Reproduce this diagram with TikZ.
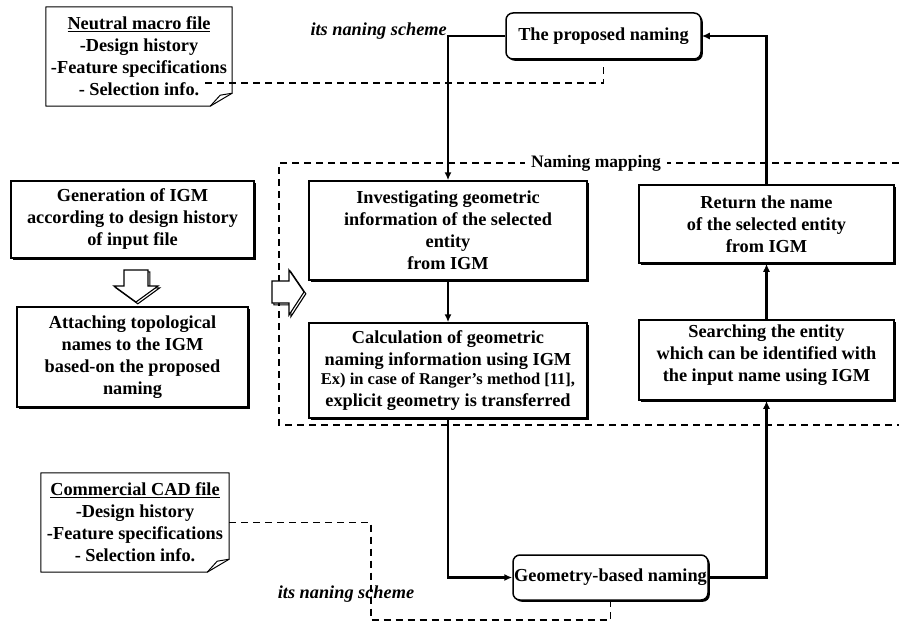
\documentclass[tikz,border=0pt]{standalone}
\usepackage{fontspec}
\setmainfont{Liberation Serif}
\usetikzlibrary{arrows.meta,shadows,calc}
\begin{document}
\begin{tikzpicture}[x=1pt,y=-1pt,
  every node/.style={font=\bfseries\fontsize{18.3}{22}\selectfont, align=center, inner sep=0pt},
  procbox/.style={draw, line width=1.5pt, fill=white,
    drop shadow={shadow xshift=1.8pt, shadow yshift=-1.8pt, opacity=1, fill=black}},
  roundbox/.style={procbox, rounded corners=7pt},
  notebox/.style={draw=none},
  noteline/.style={line width=1pt, line join=round},
  conn/.style={line width=2.5pt, -{Latex[length=8pt,width=7pt]}},
  dashline/.style={line width=1.8pt, dash pattern=on 7pt off 5pt},
  lbl/.style={font=\bfseries\itshape\fontsize{18.3}{22}\selectfont},
  hollow/.style={draw, line width=1.1pt, fill=white, line join=miter}
]
\useasboundingbox (0,0) rectangle (899,626);

% naming mapping frame
\draw[dashline] (899,163) -- (279,163) -- (279,425) -- (899,425);

% notes
\node[notebox, minimum width=186pt, minimum height=99pt] (neutral) at (139,56.5)
  {\underline{Neutral macro file}\\-Design history\\-Feature specifications\\- Selection info.};
\draw[noteline] (neutral.north west) -- (neutral.north east) -- ($(neutral.south east)+(0,-13)$)
  -- ($(neutral.south east)+(-22,0)$) -- (neutral.south west) -- cycle;
\draw[noteline] ($(neutral.south east)+(-22,0)$) -- ($(neutral.south east)+(-12,-11)$) -- ($(neutral.south east)+(0,-13)$);

\node[notebox, minimum width=188pt, minimum height=99pt] (cad) at (135,522.5)
  {\underline{Commercial CAD file}\\-Design history\\-Feature specifications\\- Selection info.};
\draw[noteline] (cad.north west) -- (cad.north east) -- ($(cad.south east)+(0,-13)$)
  -- ($(cad.south east)+(-22,0)$) -- (cad.south west) -- cycle;
\draw[noteline] ($(cad.south east)+(-22,0)$) -- ($(cad.south east)+(-12,-11)$) -- ($(cad.south east)+(0,-13)$);

% left boxes
\node[procbox, minimum width=243pt, minimum height=77pt] (gen) at (132.5,219.5)
  {Generation of IGM\\according to design history\\of input file};
\node[procbox, minimum width=231pt, minimum height=100pt] (att) at (132.5,357)
  {Attaching topological\\names to the IGM\\based-on the proposed\\naming};

% hollow down arrow
\begin{scope}[shift={(1.8,1.8)}]
\draw[line width=1.1pt] (124,270) -- (148,270) -- (148,286) -- (158,286) -- (136,302) -- (114,286) -- (124,286) -- cycle;
\end{scope}
\draw[hollow] (124,270) -- (148,270) -- (148,286) -- (158,286) -- (136,302) -- (114,286) -- (124,286) -- cycle;

% hollow right arrow
\begin{scope}[shift={(1.8,1.8)}]
\draw[line width=1.1pt] (272,281) -- (289,281) -- (289,270) -- (304,292) -- (289,315) -- (289,303) -- (272,303) -- cycle;
\end{scope}
\draw[hollow] (272,281) -- (289,281) -- (289,270) -- (304,292) -- (289,315) -- (289,303) -- (272,303) -- cycle;

% main boxes
\node[roundbox, minimum width=195pt, minimum height=46pt] (prop) at (603.5,36) {The proposed naming};
\node[procbox, minimum width=278pt, minimum height=99pt] (inv) at (448,230.5)
  {Investigating geometric\\information of the selected\\entity\\from IGM};
\node[procbox, minimum width=278pt, minimum height=95pt] (calc) at (448,370.5)
  {Calculation of geometric\\naming information using IGM\\[-3pt]
   \fontsize{16.5}{20}\selectfont Ex) in case of Ranger's method [11],\\explicit geometry is transferred};
\node[procbox, minimum width=255pt, minimum height=78pt] (ret) at (766.5,224)
  {Return the name\\of the selected entity\\from IGM};
\node[procbox, minimum width=255pt, minimum height=80pt] (srch) at (766.5,360)
  {Searching the entity\\which can be identified with\\the input name using IGM\\[-8pt]\mbox{}};
\node[roundbox, minimum width=195pt, minimum height=45pt] (geo) at (610.5,577.5) {Geometry-based naming};

% connectors
\draw[conn] (prop.west) -| (inv.north);
\draw[conn] (ret.north) |- (prop.east);
\draw[conn] (inv.south) -- (calc.north);
\draw[conn] (calc.south) |- (geo.west);
\draw[conn] (geo.east) -| (srch.south);
\draw[conn] (srch.north) -- (ret.south);

% dashed links
\coordinate (nstart) at (205,83);
\draw[dashline] (nstart) -| (prop.south);
\coordinate (bcorner) at (371,620);
\draw[dashline] (cad.east) -| (bcorner) -| (geo.south);

% labels
\node[fill=white, inner xsep=6pt, inner ysep=2pt, font=\bfseries\fontsize{17.5}{20}\selectfont] (nm) at (596,163) {Naming mapping};
\node[lbl, anchor=east] (l1) at (447,31) {its naning scheme};
\node[lbl] (l2) at (346,594) {its naning scheme};
\end{tikzpicture}
\end{document}
